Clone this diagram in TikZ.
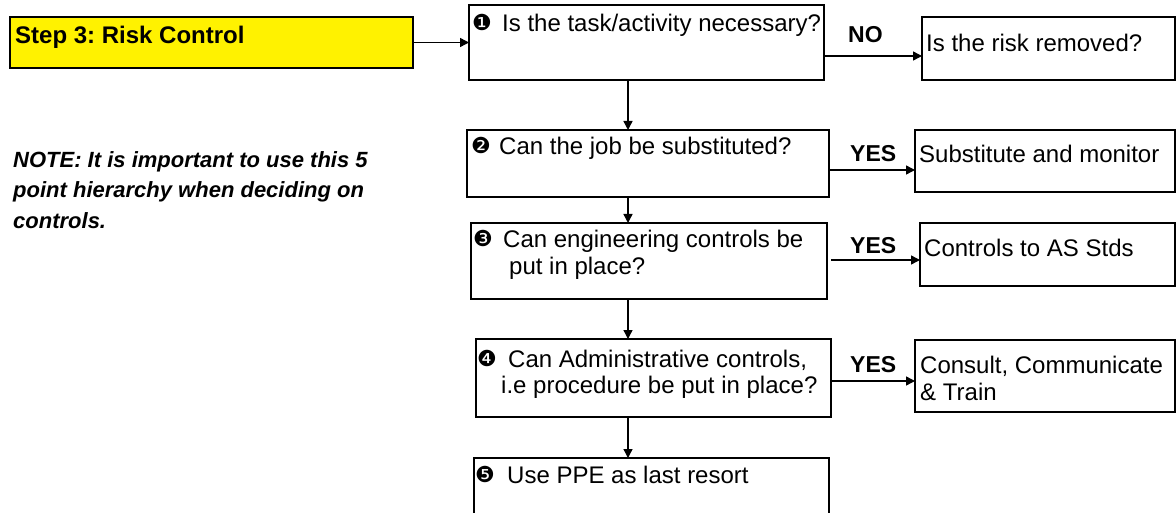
\documentclass[tikz,border=0pt]{standalone}
\usepackage{fontspec}
\setmainfont{Liberation Sans}
\newfontfamily\dingfont{DejaVu Sans}
\usetikzlibrary{arrows.meta}
\frenchspacing
\begin{document}
\frenchspacing
\begin{tikzpicture}[x=1pt,y=-1pt,
  box/.style={draw=black, line width=2pt, fill=white, inner sep=0pt, outer sep=0pt, anchor=north west, rectangle},
  arr/.style={line width=1.4pt, -{Triangle[length=9pt,width=9pt]}},
  txt/.style={anchor=base west, inner sep=0pt, font=\fontsize{24}{28}\selectfont},
  lbl/.style={anchor=base west, inner sep=0pt, font=\fontsize{23}{28}\selectfont\bfseries},
  num/.style={anchor=base west, inner sep=0pt, font=\dingfont\fontsize{22}{26}\selectfont},
  notetxt/.style={anchor=base west, inner sep=0pt, font=\fontsize{22}{28}\selectfont\bfseries\itshape},
]
\useasboundingbox (0,0) rectangle (1176,513);
\clip (0,0) rectangle (1176,513);
\fill[white] (0,0) rectangle (1176,513);

% boxes
\node[box, fill=yellow, minimum width=403pt, minimum height=51pt] (step) at (10,17) {};
\node[box, minimum width=355pt, minimum height=75pt] (b1) at (469,5) {};
\node[box, minimum width=253pt, minimum height=63pt] (r1) at (922,17) {};
\node[box, minimum width=362pt, minimum height=67pt] (b2) at (467,130) {};
\node[box, minimum width=260pt, minimum height=62pt] (r2) at (915,130) {};
\node[box, minimum width=356pt, minimum height=76pt] (b3) at (471,223) {};
\node[box, minimum width=255pt, minimum height=63pt] (r3) at (920,223) {};
\node[box, minimum width=355pt, minimum height=78pt] (b4) at (476,339) {};
\node[box, minimum width=260pt, minimum height=72pt] (r4) at (915,340) {};
\node[box, minimum width=355pt, minimum height=80pt] (b5) at (474,458) {};

% texts
\node[txt, font=\fontsize{24}{28}\selectfont\bfseries] (steptxt) at (15,44) {Step 3: Risk Control};
\node[notetxt] (note1) at (13,168) {NOTE: It is important to use this 5};
\node[notetxt] (note2) at (13,198) {point hierarchy when deciding on};
\node[notetxt] (note3) at (13,229) {controls.};

\node[num] (n1) at (472,31) {❶};
\node[txt] (t1) at (502,32) {Is the task/activity necessary?};
\node[num] (n2) at (471,154) {❷};
\node[txt] (t2) at (499,155) {Can the job be substituted?};
\node[num] (n3) at (473,247) {❸};
\node[txt] (t3a) at (503,248) {Can engineering controls be};
\node[txt] (t3b) at (509,275) {put in place?};
\node[num] (n4) at (477,366) {❹};
\node[txt] (t4a) at (508,367) {Can Administrative controls,};
\node[txt] (t4b) at (501,393) {i.e procedure be put in place?};
\node[num] (n5) at (475,482) {❺};
\node[txt] (t5) at (507,483) {Use PPE as last resort};

\node[txt] (rt1) at (926,52) {Is the risk removed?};
\node[txt] (rt2) at (919,163) {Substitute and monitor};
\node[txt] (rt3) at (924,257) {Controls to AS Stds};
\node[txt] (rt4a) at (920,373) {Consult, Communicate};
\node[txt] (rt4b) at (920,400) {\& Train};

\node[lbl] (no) at (848,43) {NO};
\node[lbl] (yes2) at (850,162) {YES};
\node[lbl] (yes3) at (850,254) {YES};
\node[lbl] (yes4) at (850,372) {YES};

% connectors
\coordinate (spine) at (628,0);
\coordinate (y1) at (0,56);
\coordinate (y2) at (0,170);
\coordinate (y3) at (0,260);
\coordinate (y4) at (0,381);
\draw[arr] (step.east) -- (b1.west |- step.east);
\draw[arr] (b1.east |- y1) -- (r1.west |- y1);
\draw[arr] (b2.east |- y2) -- (r2.west |- y2);
\draw[arr] ([xshift=4pt]b3.east |- y3) -- (r3.west |- y3);
\draw[arr] (b4.east |- y4) -- (r4.west |- y4);
\draw[arr] (b1.south -| spine) -- (b2.north -| spine);
\draw[arr] (b2.south -| spine) -- (b3.north -| spine);
\draw[arr] (b3.south -| spine) -- (b4.north -| spine);
\draw[arr] (b4.south -| spine) -- (b5.north -| spine);
\end{tikzpicture}
\end{document}
